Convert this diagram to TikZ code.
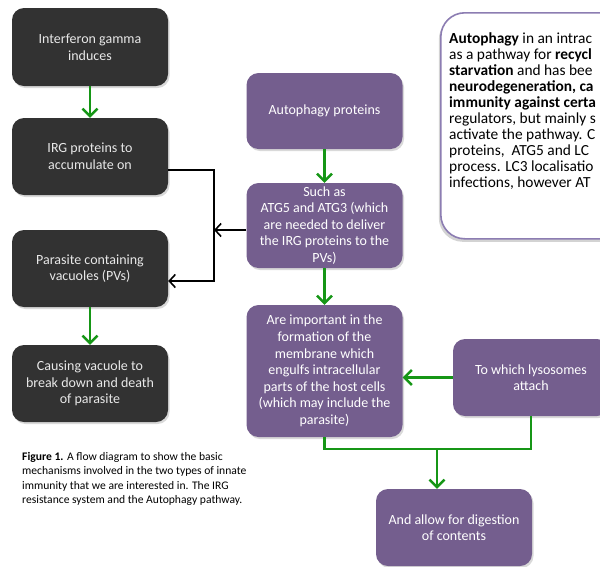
\documentclass[tikz,border=0pt]{standalone}
\usepackage{fontspec}
\setmainfont{Carlito}
\usetikzlibrary{arrows.meta,shadows}
\definecolor{darkbox}{RGB}{50,50,50}
\definecolor{darktext}{RGB}{232,232,232}
\definecolor{purplebox}{RGB}{116,94,142}
\definecolor{flowgreen}{RGB}{22,150,22}
\definecolor{noteframe}{RGB}{140,125,178}
\begin{document}
\begin{tikzpicture}[x=1pt,y=-1pt,
  flowbox/.style={rectangle, rounded corners=12pt, minimum width=156pt,
    align=center, inner sep=0pt,
    font=\fontsize{14}{16.6}\selectfont,
    drop shadow={shadow xshift=1.5pt, shadow yshift=-2pt, opacity=0.3}},
  irgbox/.style={flowbox, fill=darkbox, text=darktext},
  autobox/.style={flowbox, fill=purplebox, text=white},
  greenflow/.style={draw=flowgreen, line width=2.4pt,
    -{Straight Barb[length=7.5pt,width=15pt]}},
  greenline/.style={draw=flowgreen, line width=2.4pt},
  blackflow/.style={draw=black, line width=1.6pt},
  blackarrow/.style={blackflow, -{Straight Barb[length=6pt,width=13pt]}},
  notetext/.style={anchor=base west, inner sep=0pt,
    font=\fontsize{15.4}{16}\selectfont},
  captiontext/.style={anchor=base west, inner sep=0pt,
    font=\fontsize{11.6}{14}\selectfont}
]
\useasboundingbox (0,0) rectangle (600,566);

% IRG resistance pathway (left column)
\node[irgbox, minimum height=78pt] (d1) at (90,47) {Interferon gamma\\induces};
\node[irgbox, minimum height=77pt] (d2) at (90,156.5) {IRG proteins to\\accumulate on};
\node[irgbox, minimum height=77pt] (d3) at (90,268.5) {Parasite containing\\vacuoles (PVs)};
\node[irgbox, minimum height=77pt] (d4) at (90,383.5) {Causing vacuole to\\break down and death\\of parasite};

\draw[greenflow] (d1.south) -- (d2.north);
\draw[greenflow] (d3.south) -- (d4.north);

% Autophagy pathway (middle column)
\node[autobox, minimum height=76pt] (p1) at (324.5,111) {Autophagy proteins};
\node[autobox, minimum height=85pt] (p2) at (324.5,225.5) {Such as\\ATG5 and ATG3 (which\\are needed to deliver\\the IRG proteins to the\\PVs)};
\node[autobox, minimum height=132pt] (p3) at (324.5,371) {Are important in the\\formation of the\\membrane which\\engulfs intracellular\\parts of the host cells\\(which may include the\\parasite)};
\node[autobox, minimum height=77pt] (p4) at (531,377.5) {To which lysosomes\\attach};
\node[autobox, minimum height=77pt] (p5) at (454,527.5) {And allow for digestion\\of contents};

\draw[greenflow] (p1.south) -- (p2.north);
\draw[greenflow] (p2.south) -- (p3.north);
\draw[greenflow] (p4.west) -- (p3.east |- p4.west);

% lysosome and membrane branches join, then lead down
\coordinate (join) at (437,449);
\draw[greenline] (p3.south) -- (p3.south |- join) -- (p4.south |- join) -- (p4.south);
\draw[greenflow] (join) -- (join |- p5.north);

% link between the two pathways
\coordinate (linktop) at (214,170);
\coordinate (linkmid) at (214,230);
\coordinate (linkbot) at (214,281);
\draw[blackarrow] (d2.east |- linktop) -- (linktop) -- (linkbot) -- (d3.east |- linkbot);
\draw[blackarrow] (p2.west |- linkmid) -- (linkmid);

% note on autophagy
\node[draw=noteframe, line width=1.6pt, fill=white, rounded corners=24pt,
  minimum width=230pt, minimum height=226pt, anchor=north west,
  drop shadow={shadow xshift=-2pt, shadow yshift=-3pt, opacity=0.35}]
  (note) at (440,12) {};
\node[notetext] (n1) at (449,43) {\textbf{Autophagy} in an intrac};
\node[notetext] (n2) at (449,59.1) {as a pathway for \textbf{recycl}};
\node[notetext] (n3) at (449,75.2) {\textbf{starvation} and has bee};
\node[notetext] (n4) at (449,91.3) {\textbf{neurodegeneration, ca}};
\node[notetext] (n5) at (449,107.4) {\textbf{immunity against certa}};
\node[notetext] (n6) at (449,123.5) {regulators, but mainly s};
\node[notetext] (n7) at (449,139.6) {activate the pathway. C};
\node[notetext] (n8) at (449,155.7) {proteins,\ \ ATG5 and LC};
\node[notetext] (n9) at (449,171.8) {process. LC3 localisatio};
\node[notetext] (n10) at (449,187.9) {infections, however AT};

% caption
\node[captiontext] (c1) at (22,460) {\textbf{Figure 1.} A flow diagram to show the basic};
\node[captiontext] (c2) at (22,474.5) {mechanisms involved in the two types of innate};
\node[captiontext] (c3) at (22,489) {immunity that we are interested in. The IRG};
\node[captiontext] (c4) at (22,503.5) {resistance system and the Autophagy pathway.};
\end{tikzpicture}
\end{document}
